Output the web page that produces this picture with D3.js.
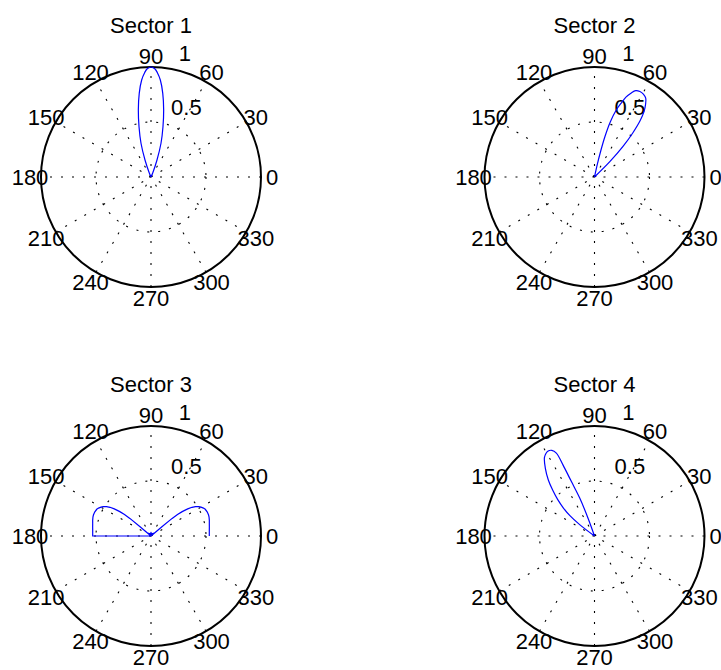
<!DOCTYPE html>
<html>
<head>
<meta charset="utf-8">
<script src="https://cdn.jsdelivr.net/npm/d3@7"></script>
<style>
    html, body { margin: 0; padding: 0; background: #fff; }
    svg text { font-family: "Liberation Sans", Arial, Helvetica, sans-serif; font-size: 22px; fill: #000; }
</style>
</head>
<body>
<div id="chart"></div>
<script>
const titles = ["Sector 1", "Sector 2", "Sector 3", "Sector 4"];
const angleTicks = [0, 30, 60, 90, 120, 150, 180, 210, 240, 270, 300, 330];
const radiusTicks = [0.5, 1];

// beam patterns, angle in degrees, normalised radius
const theta1 = [65, 67, 70.6, 73.5, 76.6, 79.3, 82, 84.5, 86.5, 88, 90, 92, 93.5, 95.5, 98, 100.7, 103.4, 106.5, 109.4, 113, 115];
const r1 = [0, 0.04, 0.164, 0.32, 0.47, 0.62, 0.768, 0.886, 0.95, 0.985, 1, 0.985, 0.95, 0.886, 0.768, 0.62, 0.47, 0.32, 0.164, 0.04, 0];

const theta2 = [43, 45, 47, 49, 51, 53, 55, 57, 59.5, 62, 64.5, 66.5, 68.5, 70, 72, 74, 75.5, 76.5, 77.5, 78.5];
const r2 = [0, 0.2, 0.38, 0.53, 0.66, 0.75, 0.81, 0.855, 0.875, 0.88, 0.87, 0.83, 0.78, 0.72, 0.64, 0.52, 0.38, 0.25, 0.12, 0];

const theta3 = [0, 5, 9, 12, 15, 18, 20, 23, 26.2, 28, 30, 31.6, 33.5, 35, 36.5, 38, 39, 39.8, 40.2, 40.5,
    50, 70, 90, 110, 130,
    139.5, 139.8, 140.2, 141, 142, 143.5, 145, 146.5, 148.4, 150, 152, 153.8, 157, 160, 162, 165, 168, 171, 175, 180, 180];
const r3 = [0.53, 0.532, 0.537, 0.542, 0.549, 0.555, 0.557, 0.556, 0.55, 0.54, 0.525, 0.51, 0.485, 0.455, 0.415, 0.36, 0.31, 0.25, 0.13, 0,
    0.03, 0.02, 0.03, 0.02, 0.03,
    0, 0.13, 0.25, 0.31, 0.36, 0.415, 0.455, 0.485, 0.51, 0.525, 0.54, 0.55, 0.556, 0.557, 0.555, 0.549, 0.542, 0.537, 0.532, 0.53, 0];

const theta4 = [108, 109.9, 111.3, 112.5, 113.2, 113.9, 114.7, 116.5, 118.6, 120.5, 122.6, 126, 129.5, 132.5, 135.3, 138, 140.4, 142.5, 144.5];
const r4 = [0, 0.17, 0.37, 0.48, 0.57, 0.705, 0.83, 0.87, 0.88, 0.87, 0.845, 0.76, 0.66, 0.56, 0.47, 0.38, 0.29, 0.17, 0];

const series = [[theta1, r1], [theta2, r2], [theta3, r3], [theta4, r4]];
const centers = [[151, 177], [594.5, 177], [151, 536], [594.5, 536]];
// sector 3 has hard corners, the lobes are smooth
const smooth = [true, true, false, true];

const width = 721;
const height = 670;
const R = 110;

const svg = d3.select("#chart").append("svg")
    .attr("width", width)
    .attr("height", height);

const rScale = d3.scaleLinear().domain([0, 1]).range([0, R]);
// data angle (ccw from east) -> d3 radial angle (cw from north)
const aScale = d3.scaleLinear().domain([0, 360]).range([Math.PI / 2, Math.PI / 2 - 2 * Math.PI]);

const toXY = (deg, r) => {
    const a = aScale(deg);
    return [rScale(r) * Math.sin(a), -rScale(r) * Math.cos(a)];
};

const drawPolar = (g, idx) => {
    const [cx, cy] = centers[idx];
    const [th, rr] = series[idx];

    g.attr("transform", `translate(${cx},${cy})`);

    // dotted spokes, each one through the centre
    const spokes = g.append("g");
    [30, 60, 90, 120, 150, 180].forEach(a => {
        const p = toXY(a, 1);
        spokes.append("line")
            .attr("x1", -p[0]).attr("y1", -p[1])
            .attr("x2", p[0]).attr("y2", p[1])
            .attr("stroke", "#000")
            .attr("stroke-width", 1.1)
            .attr("stroke-dasharray", "2,9");
    });

    // inner dotted ring
    radiusTicks.filter(t => t < 1).forEach(t => {
        g.append("circle")
            .attr("r", rScale(t))
            .attr("fill", "none")
            .attr("stroke", "#000")
            .attr("stroke-width", 1.1)
            .attr("stroke-dasharray", "2,9");
    });

    // angle labels
    g.selectAll("text.ang")
        .data(angleTicks)
        .enter().append("text")
        .attr("class", "ang")
        .attr("text-anchor", "middle")
        .attr("x", d => toXY(d, 1.1)[0])
        .attr("y", d => toXY(d, 1.1)[1] + 8)
        .text(d => d);

    // radius labels at 82 degrees
    g.selectAll("text.rad")
        .data(radiusTicks)
        .enter().append("text")
        .attr("class", "rad")
        .attr("x", d => toXY(82, d + 0.025)[0] + 12)
        .attr("y", d => toXY(82, d + 0.025)[1] - 4.5)
        .text(d => d);

    // outer circle
    g.append("circle")
        .attr("r", rScale(1))
        .attr("fill", "none")
        .attr("stroke", "#000")
        .attr("stroke-width", 2);

    const line = d3.lineRadial()
        .angle(d => aScale(d[0]))
        .radius(d => rScale(d[1]))
        .curve(smooth[idx] ? d3.curveCatmullRom.alpha(0.5) : d3.curveLinear);

    g.append("path")
        .datum(th.map((t, i) => [t, rr[i]]))
        .attr("d", line)
        .attr("fill", "none")
        .attr("stroke", "#0000ff")
        .attr("stroke-width", 1.2);

    g.append("text")
        .attr("text-anchor", "middle")
        .attr("x", 0)
        .attr("y", -R - 34)
        .text(titles[idx]);
};

titles.forEach((t, i) => {
    drawPolar(svg.append("g"), i);
});
</script>
</body>
</html>
